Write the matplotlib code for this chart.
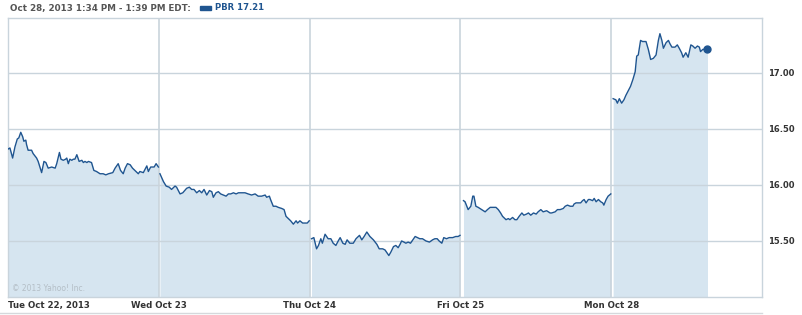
import numpy as np
import matplotlib.pyplot as plt
from matplotlib.lines import Line2D
from matplotlib.patches import Rectangle

# PBR intraday, 5 sessions (minutes after 9:30 open, price)
tue_min = [0, 5, 12, 18, 24, 28, 33, 38, 41, 46, 48, 52, 61, 65, 74, 78, 87, 93, 98, 104,
           113, 122, 126, 133, 137, 143, 149, 152, 156, 160, 165, 169, 173, 178, 184, 191,
           195, 199, 204, 208, 216, 222, 229, 238, 246, 253, 260, 271, 277, 285, 291, 298,
           303, 309, 316, 322, 328, 337, 341, 350, 359, 363, 369, 378, 383, 389]
tue_px = [16.32, 16.33, 16.24, 16.34, 16.41, 16.42, 16.47, 16.43, 16.39, 16.40, 16.36, 16.31,
          16.31, 16.28, 16.24, 16.21, 16.11, 16.21, 16.20, 16.15, 16.16, 16.15, 16.19, 16.29,
          16.23, 16.22, 16.23, 16.24, 16.19, 16.23, 16.22, 16.23, 16.23, 16.27, 16.21, 16.22,
          16.20, 16.21, 16.20, 16.21, 16.20, 16.13, 16.12, 16.10, 16.10, 16.09, 16.10, 16.11,
          16.15, 16.19, 16.13, 16.10, 16.15, 16.19, 16.18, 16.15, 16.13, 16.10, 16.12, 16.11,
          16.17, 16.12, 16.16, 16.16, 16.19, 16.16]

wed_min = [3, 12, 19, 27, 33, 42, 46, 55, 62, 72, 79, 85, 91, 98, 105, 111, 117, 124, 131,
           137, 141, 148, 154, 160, 167, 174, 180, 186, 193, 200, 206, 214, 223, 231, 240,
           249, 257, 266, 275, 279, 286, 289, 296, 303, 309, 318, 324, 329, 335, 341, 348,
           355, 359, 365, 372, 378, 384, 389]
wed_px = [16.10, 16.03, 15.99, 15.98, 15.96, 15.99, 15.98, 15.92, 15.93, 15.97, 15.98, 15.96,
          15.96, 15.93, 15.95, 15.93, 15.96, 15.91, 15.95, 15.94, 15.89, 15.93, 15.94, 15.92,
          15.91, 15.90, 15.92, 15.92, 15.93, 15.92, 15.93, 15.93, 15.93, 15.92, 15.91, 15.92,
          15.90, 15.90, 15.91, 15.89, 15.90, 15.87, 15.81, 15.81, 15.80, 15.79, 15.78, 15.72,
          15.70, 15.68, 15.65, 15.68, 15.66, 15.68, 15.66, 15.66, 15.66, 15.68]

thu_min = [5, 11, 18, 23, 29, 33, 40, 48, 55, 61, 68, 74, 79, 86, 92, 97, 104, 113, 120, 129,
           135, 141, 148, 156, 165, 174, 180, 189, 195, 199, 205, 210, 217, 223, 229, 234,
           238, 244, 249, 255, 261, 267, 273, 279, 285, 292, 301, 310, 318, 324, 330, 335,
           342, 347, 354, 361, 370, 378, 384, 389]
thu_px = [15.52, 15.53, 15.43, 15.46, 15.52, 15.48, 15.56, 15.52, 15.52, 15.48, 15.46, 15.50,
          15.53, 15.48, 15.47, 15.51, 15.48, 15.48, 15.52, 15.55, 15.51, 15.54, 15.58, 15.54,
          15.51, 15.47, 15.43, 15.43, 15.42, 15.40, 15.37, 15.40, 15.45, 15.46, 15.44, 15.47,
          15.50, 15.49, 15.48, 15.49, 15.48, 15.51, 15.54, 15.53, 15.52, 15.52, 15.50, 15.49,
          15.51, 15.52, 15.52, 15.50, 15.48, 15.53, 15.52, 15.53, 15.53, 15.54, 15.54, 15.55]

fri_min = [8, 12, 20, 27, 32, 35, 40, 46, 55, 64, 70, 77, 85, 92, 98, 104, 109, 118, 124,
           128, 135, 141, 146, 152, 159, 164, 171, 176, 182, 189, 196, 201, 208, 214, 223,
           232, 236, 245, 251, 258, 266, 271, 277, 284, 291, 294, 299, 305, 311, 316, 320,
           325, 331, 335, 342, 346, 351, 357, 363, 368, 371, 377, 382, 389]
fri_px = [15.86, 15.85, 15.78, 15.81, 15.90, 15.90, 15.81, 15.80, 15.78, 15.76, 15.78, 15.80,
          15.80, 15.80, 15.78, 15.75, 15.72, 15.69, 15.70, 15.69, 15.71, 15.69, 15.69, 15.72,
          15.75, 15.73, 15.74, 15.75, 15.73, 15.75, 15.74, 15.76, 15.78, 15.76, 15.77, 15.75,
          15.75, 15.76, 15.78, 15.78, 15.79, 15.81, 15.82, 15.81, 15.81, 15.83, 15.84, 15.84,
          15.84, 15.86, 15.87, 15.84, 15.87, 15.87, 15.86, 15.88, 15.85, 15.87, 15.85, 15.84,
          15.82, 15.87, 15.90, 15.92]

mon_min = [5, 12, 16, 21, 27, 33, 38, 44, 50, 56, 62, 66, 70, 76, 81, 90, 96, 102, 109, 116,
           122, 126, 131, 135, 142, 148, 152, 157, 165, 171, 176, 182, 186, 193, 199, 206,
           211, 217, 223, 228, 231, 237, 249]
mon_px = [16.77, 16.76, 16.73, 16.77, 16.73, 16.76, 16.80, 16.84, 16.88, 16.94, 17.01, 17.15,
          17.16, 17.29, 17.28, 17.28, 17.21, 17.12, 17.13, 17.16, 17.29, 17.35, 17.29, 17.22,
          17.27, 17.29, 17.26, 17.23, 17.23, 17.25, 17.22, 17.18, 17.14, 17.18, 17.14, 17.25,
          17.24, 17.22, 17.24, 17.23, 17.19, 17.21, 17.21]

days = ["Tue Oct 22, 2013", "Wed Oct 23", "Thu Oct 24", "Fri Oct 25", "Mon Oct 28"]
sessions = [(tue_min, tue_px), (wed_min, wed_px), (thu_min, thu_px),
            (fri_min, fri_px), (mon_min, mon_px)]
y_ticks = [15.50, 16.00, 16.50, 17.00]

line_c = "#1f5590"
fill_c = "#d6e5f0"
grid_c = "#c9d4dc"

W, H = 803, 315
fig = plt.figure(figsize=(W / 100, H / 100), dpi=100)
ax = fig.add_axes([8 / W, (H - 297) / H, (762 - 8) / W, (297 - 18) / H])

for d, (mins, px) in enumerate(sessions):
    x = d + np.array(mins) / 390.0
    ax.fill_between(x, px, 15.0, color=fill_c, lw=0, zorder=1)
    ax.plot(x, px, color=line_c, lw=1.0, zorder=3)

# last trade marker
ax.plot(4 + mon_min[-1] / 390.0, mon_px[-1], "o", ms=5, color=line_c, zorder=4)

ax.set_xlim(0, 5)
ax.set_ylim(15.0, 17.49)

for yv in y_ticks:
    ax.axhline(yv, color=grid_c, lw=1, zorder=2)
for d in range(1, 5):
    ax.axvline(d, color=grid_c, lw=1.2, zorder=2)

ax.yaxis.tick_right()
ax.set_yticks(y_ticks)
ax.set_yticklabels(["%.2f" % v for v in y_ticks], fontsize=6, fontweight="bold", color="#333333")
ax.tick_params(axis="y", length=0, pad=4)

ax.set_xticks(range(5))
ax.set_xticklabels(days, fontsize=6.2, fontweight="bold", color="#333333")
ax.tick_params(axis="x", length=0, pad=3)
ax.get_xticklabels()[0].set_horizontalalignment("left")

for s in ax.spines.values():
    s.set_color(grid_c)
    s.set_linewidth(1)

ax.text(0.005, 0.015, "© 2013 Yahoo! Inc.", transform=ax.transAxes, fontsize=5.5,
        color="#b4bec6", va="bottom")

# header
fig.text(10 / W, 1 - 8 / H, "Oct 28, 2013 1:34 PM - 1:39 PM EDT:", fontsize=6.3,
         fontweight="bold", color="#555555", va="center")
fig.add_artist(Rectangle((200 / W, 1 - 10 / H), 11 / W, 4 / H, color=line_c,
                         transform=fig.transFigure))
fig.text(215 / W, 1 - 8 / H, "PBR %.2f" % mon_px[-1], fontsize=6.1, fontweight="bold",
         color=line_c, va="center")

fig.add_artist(Line2D([0, 762 / W], [(H - 313) / H] * 2, color="#d5d9dc", lw=1,
                      transform=fig.transFigure))

fig.savefig("out.png", dpi=100)
